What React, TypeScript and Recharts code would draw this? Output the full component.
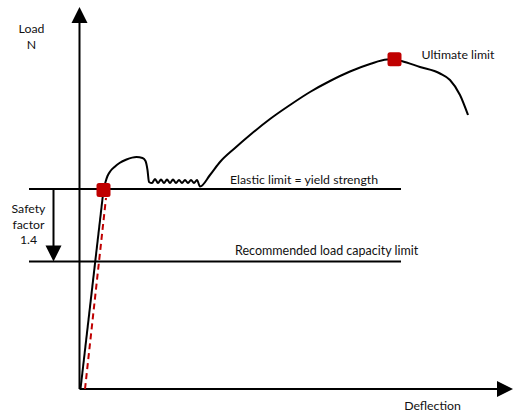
import React from "react";
import { ComposedChart, Line, XAxis, YAxis, ReferenceDot } from "recharts";

// Units: deflection (x) and load (y) in drawing units
const loadCurveDeflection = [24, 26, 28, 31, 35, 40, 47, 57, 63, 66, 68, 69.5, 72.5, 75.5, 78.5, 81.5, 84.5, 87.5, 90.5, 93.5, 96.5, 99.5, 102.5, 105.5, 108.5, 111.5, 114.5, 117.5, 120.5, 130.5, 140.5, 155.5, 170.5, 190.5, 210.5, 230.5, 250.5, 270.5, 290.5, 307.5, 315, 322, 340.5, 360.5, 370.5, 380.5, 388.5];
const loadCurveLoad = [199, 207, 213, 218, 222, 226, 229.5, 232, 231, 228, 219, 207, 206, 210, 206, 209.5, 206, 209.5, 206, 209.5, 206, 209, 206, 209, 206, 209, 206, 209, 202.5, 214, 227, 241, 254, 270, 284, 297, 308, 317.5, 325, 329.5, 329.7, 328, 322, 315.5, 309, 294, 274];

const elasticDeflection = [1, 24];
const elasticLoad = [0, 199];
const dashedDeflection = [5.5, 26.5];
const dashedLoad = [0, 191];

const yieldLoad = 200;
const recommendedLoad = 127.5;
const limitLineDeflection = [-50.5, 321.5];

const yieldPoint = { x: 24, y: 199 };
const ultimatePoint = { x: 315, y: 329.7 };

const safetyArrowX = -26;

const xDomain: [number, number] = [-79.5, 437.5];
const yDomain: [number, number] = [-25, 389];

const curveData = loadCurveDeflection.map((x, i) => ({ x, y: loadCurveLoad[i] }));
const elasticData = elasticDeflection.map((x, i) => ({ x, y: elasticLoad[i] }));
const dashedData = dashedDeflection.map((x, i) => ({ x, y: dashedLoad[i] }));
const yieldLine = limitLineDeflection.map((x) => ({ x, y: yieldLoad }));
const recLine = limitLineDeflection.map((x) => ({ x, y: recommendedLoad }));
const yAxisLine = [{ x: 0, y: 0 }, { x: 0, y: 368 }];
const xAxisLine = [{ x: 0, y: 0 }, { x: 420, y: 0 }];
const safetyLine = [{ x: safetyArrowX, y: yieldLoad }, { x: safetyArrowX, y: recommendedLoad + 14 }];

const FONT = "Lato, 'Open Sans', sans-serif";

const Square = (props: any) => {
  const { cx, cy } = props;
  return <rect x={cx - 7} y={cy - 7} width={14} height={14} rx={2.5} fill="#c00000" />;
};

const ArrowUp = (props: any) => {
  const { cx, cy } = props;
  return <polygon points={`${cx},${cy} ${cx - 8},${cy + 16} ${cx + 8},${cy + 16}`} fill="#000" />;
};
const ArrowDown = (props: any) => {
  const { cx, cy } = props;
  return <polygon points={`${cx},${cy} ${cx - 8},${cy - 16} ${cx + 8},${cy - 16}`} fill="#000" />;
};
const ArrowRight = (props: any) => {
  const { cx, cy } = props;
  return <polygon points={`${cx},${cy} ${cx - 16},${cy - 8} ${cx - 16},${cy + 8}`} fill="#000" />;
};

const makeText = (lines: string[], anchor: "start" | "middle", size = 12.3, lineGap = 15.5) => (props: any) => {
  const { cx, cy } = props;
  return (
    <text x={cx} y={cy} textAnchor={anchor} fontFamily={FONT} fontSize={size} fill="#111">
      {lines.map((l, i) => (
        <tspan key={i} x={cx} dy={i === 0 ? "0.35em" : lineGap}>{l}</tspan>
      ))}
    </text>
  );
};

const lineProps = { dot: false, activeDot: false, isAnimationActive: false, stroke: "#000", strokeWidth: 2 } as const;

export default function App() {
  return (
    <div style={{ position: "absolute", left: 0, top: 0, background: "#fff" }}>
      <ComposedChart width={517} height={414} margin={{ top: 0, right: 0, bottom: 0, left: 0 }}>
        <XAxis type="number" dataKey="x" domain={xDomain} hide allowDataOverflow />
        <YAxis type="number" dataKey="y" domain={yDomain} hide allowDataOverflow />
        <Line data={yAxisLine} dataKey="y" type="linear" {...lineProps} />
        <Line data={xAxisLine} dataKey="y" type="linear" {...lineProps} />
        <Line data={yieldLine} dataKey="y" type="linear" {...lineProps} />
        <Line data={recLine} dataKey="y" type="linear" {...lineProps} />
        <Line data={safetyLine} dataKey="y" type="linear" {...lineProps} />
        <Line data={dashedData} dataKey="y" type="linear" {...lineProps} stroke="#c00000" strokeDasharray="6 4" />
        <Line data={elasticData} dataKey="y" type="linear" {...lineProps} />
        <Line data={curveData} dataKey="y" type="monotone" {...lineProps} />
        <ReferenceDot x={0} y={382} shape={ArrowUp} />
        <ReferenceDot x={433.5} y={0} shape={ArrowRight} />
        <ReferenceDot x={safetyArrowX} y={recommendedLoad} shape={ArrowDown} />
        <ReferenceDot x={yieldPoint.x} y={yieldPoint.y} shape={Square} />
        <ReferenceDot x={ultimatePoint.x} y={ultimatePoint.y} shape={Square} />
        <ReferenceDot x={-48} y={360} shape={makeText(["Load", "N"], "middle")} />
        <ReferenceDot x={353} y={-17} shape={makeText(["Deflection"], "middle")} />
        <ReferenceDot x={-51} y={180} shape={makeText(["Safety", "factor", "1.4"], "middle")} />
        <ReferenceDot x={342} y={334} shape={makeText(["Ultimate limit"], "start")} />
        <ReferenceDot x={150.5} y={209} shape={makeText(["Elastic limit = yield strength"], "start")} />
        <ReferenceDot x={155.5} y={138} shape={makeText(["Recommended load capacity limit"], "start", 12.5)} />
      </ComposedChart>
    </div>
  );
}
